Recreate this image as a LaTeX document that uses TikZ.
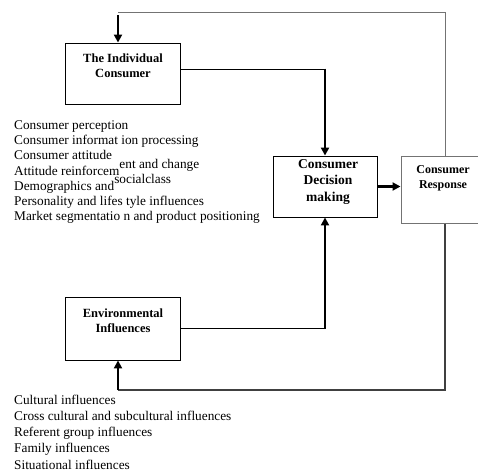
\documentclass[tikz,border=0pt]{standalone}
\usepackage{fontspec}
\setmainfont{Liberation Serif}
\usetikzlibrary{arrows.meta}
\begin{document}
\begin{tikzpicture}[x=1pt,y=-1pt,
  box/.style={draw=black,line width=0.9pt,minimum width=115pt,minimum height=61pt,inner sep=0pt},
  gbox/.style={draw=black!55,line width=1pt,inner sep=0pt},
  btxt/.style={font=\bfseries\fontsize{12.5}{15}\selectfont,align=center,inner sep=0pt},
  ltxt/.style={font=\fontsize{13.3}{15}\selectfont,anchor=base west,inner sep=0pt},
  conn/.style={line width=0.9pt},
  arr/.style={line width=2.2pt,-{Triangle[length=8pt,width=8pt]}},
  fb/.style={draw=black!55,line width=1pt}]
\useasboundingbox (0,0) rectangle (478,474);
% boxes
\node[box] (ind) at (122.5,73.5) {};
\node[box,minimum height=63pt] (env) at (122.5,328.5) {};
\node[box,minimum width=104pt,minimum height=61pt] (dec) at (325,186.5) {};
\node[gbox,minimum width=88pt,minimum height=67pt] (resp) at (445,189.5) {};
% box texts
\node[btxt] (indt) at (123,65.5) {The Individual\\Consumer};
\node[btxt] (envt) at (123,321) {Environmental\\Influences};
\node[btxt,font=\bfseries\fontsize{13.5}{16.5}\selectfont] (dect) at (328,182) {Consumer\\Decision\\making};
\node[btxt,font=\bfseries\fontsize{12}{15}\selectfont] (respt) at (443,178.5) {Consumer\\Response};
% lists
\node[ltxt] (l1) at (14,129) {Consumer perception};
\node[ltxt] (l2) at (14,144) {Consumer informat ion processing};
\node[ltxt] (l3) at (14,159.5) {Consumer attitude};
\node[ltxt] (l4) at (14,175) {Attitude reinforcem\raisebox{7pt}{ent and change}};
\node[ltxt] (l5) at (14,190) {Demographics and\raisebox{7pt}{socialclass}};
\node[ltxt] (l6) at (14,205) {Personality and lifes tyle influences};
\node[ltxt] (l7) at (14,220) {Market segmentatio n and product positioning};
\node[ltxt] (e1) at (14,404) {Cultural influences};
\node[ltxt] (e2) at (14,420) {Cross cultural and subcultural influences};
\node[ltxt] (e3) at (14,436) {Referent group influences};
\node[ltxt] (e4) at (14,452.5) {Family influences};
\node[ltxt] (e5) at (14,469) {Situational influences};
% connectors
\coordinate (ftl) at (118,12);
\coordinate (ftr) at (445,12);
\coordinate (fbr) at (445,390);
\coordinate (fbl) at (118,390);
\coordinate (ic) at (325,69);
\coordinate (ec) at (325,328.5);
\draw[fb] (ftl) -- (ftr) -- (resp.north);
\draw[fb,draw=black!75,line width=1.3pt] (resp.south) -- (fbr) -- (fbl);
\draw[arr] (118,15) -- (ind.north -| ftl);
\draw[arr] (fbl) -- (env.south -| fbl);
\draw[conn] (ind.east |- ic) -- (ic);
\draw[arr] (325,68.5) -- (dec.north);
\draw[conn] (env.east) -- (ec);
\draw[arr] (325,329) -- (dec.south);
\draw[arr] (dec.east) -- (dec.east -| resp.west);
\end{tikzpicture}
\end{document}
